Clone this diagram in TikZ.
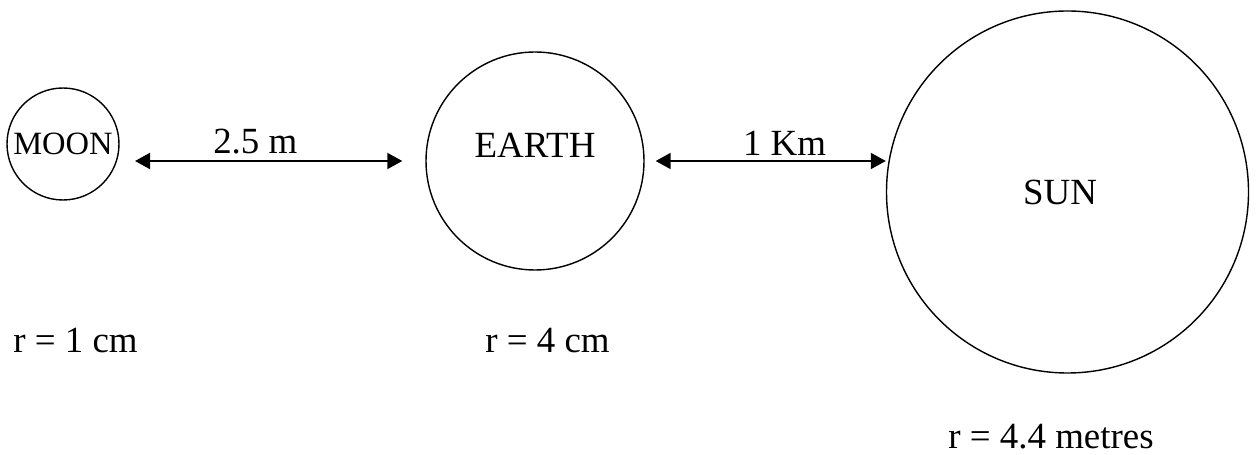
\documentclass[tikz,border=0pt]{standalone}
\usepackage{fontspec}
\setmainfont{Liberation Serif}
\usetikzlibrary{arrows.meta, positioning, calc}

\begin{document}
\begin{tikzpicture}[
    planet/.style={circle, draw=black, line width=0.8pt, inner sep=0pt},
    dist/.style={{Triangle[length=0.3cm, width=0.32cm]}-{Triangle[length=0.3cm, width=0.32cm]}, line width=1.1pt},
    txt/.style={font=\fontsize{21}{25}\selectfont, inner sep=0pt}
]
\useasboundingbox (0,0) rectangle (25.14,-9.10);

% Bodies
\node[planet, minimum size=2.24cm, font=\fontsize{18.5}{22}\selectfont] (moon) at (1.26,-2.88) {MOON};
\node[planet, minimum size=4.36cm] (earth) at (10.70,-3.22) {};
\node[planet, minimum size=7.24cm] (sun) at (21.35,-3.84) {};
\node[txt] (earthlbl) at ([yshift=0.32cm]earth.center) {EARTH};
\node[txt] (sunlbl) at ([xshift=-0.15cm]sun.center) {SUN};

% Distances
\coordinate (d1) at (2.70,-3.22);
\draw[dist] (d1) -- ([xshift=-0.46cm]earth.west) node[txt, pos=0.45, above=0.12cm] (d1lbl) {2.5 m};
\draw[dist] ([xshift=0.22cm]earth.east) -- (sun.west |- earth.east) node[txt, pos=0.56, above=0.1cm] (d2lbl) {1 Km};

% Radii
\node[txt, anchor=base west] (rmoon) at (0.26,-7.06) {r = 1 cm};
\node[txt, anchor=base west] (rearth) at (9.70,-7.06) {r = 4 cm};
\node[txt, anchor=base west] (rsun) at (18.96,-8.98) {r = 4.4 metres};

\end{tikzpicture}
\end{document}
